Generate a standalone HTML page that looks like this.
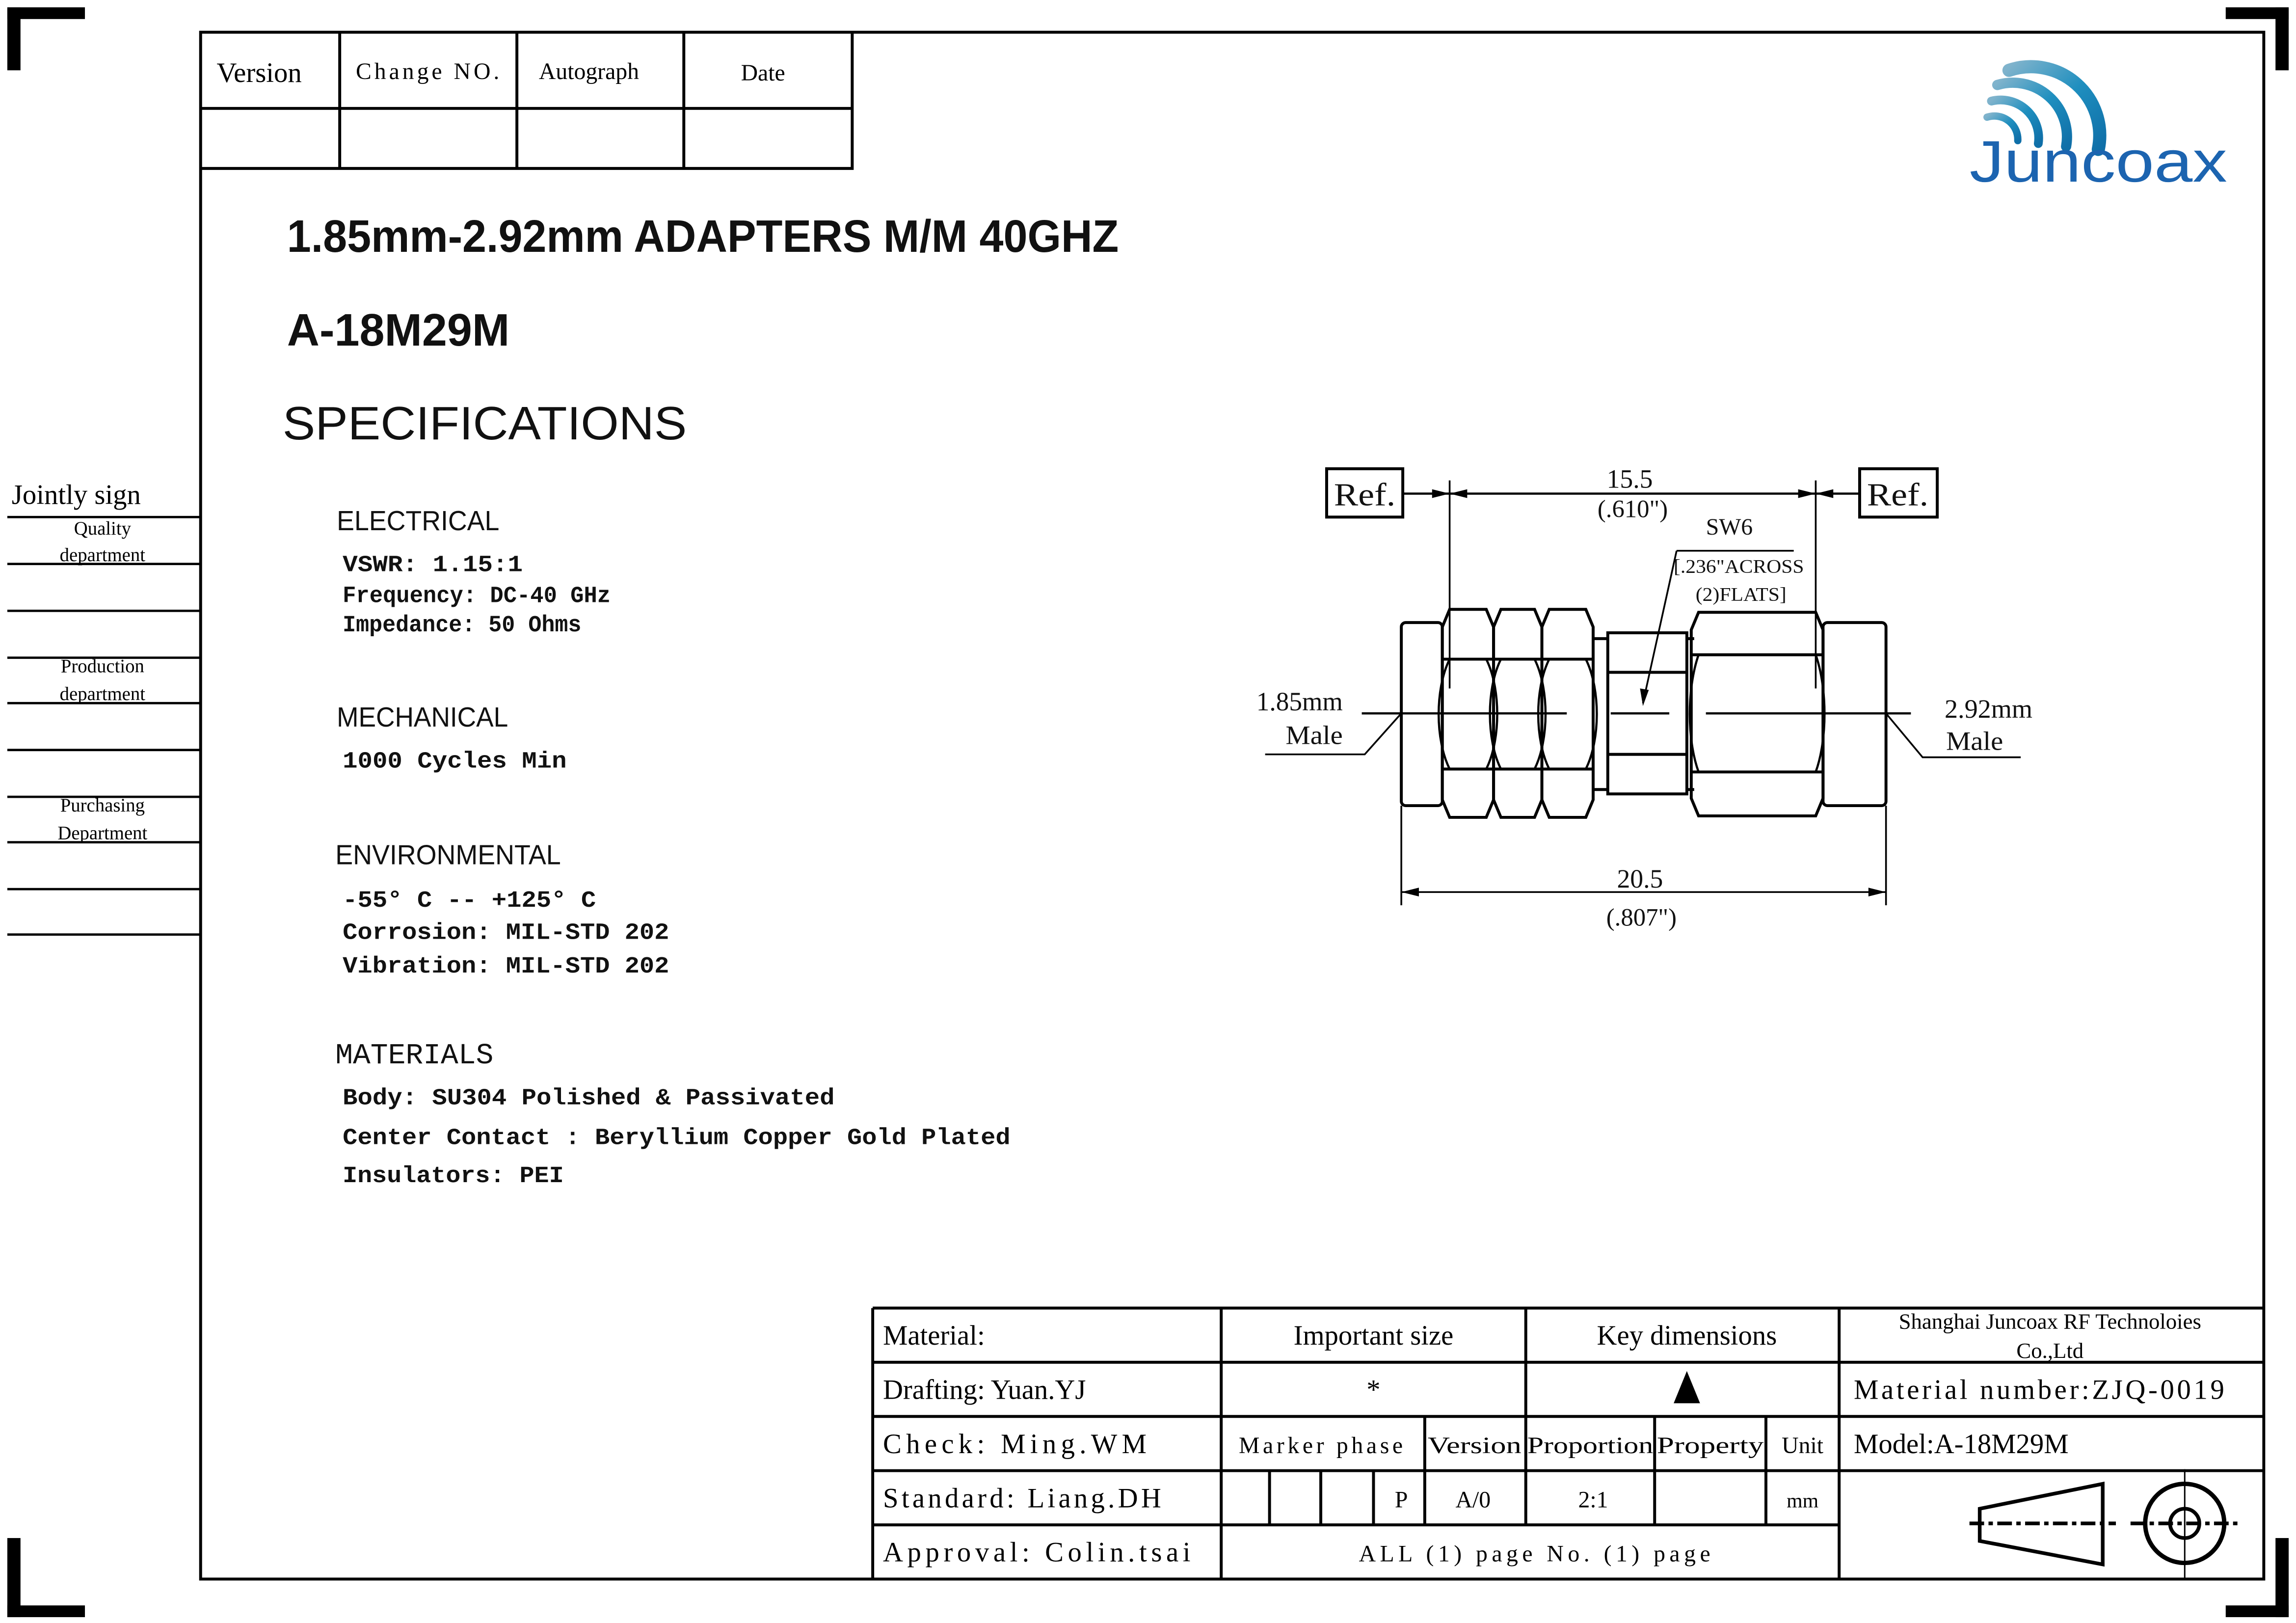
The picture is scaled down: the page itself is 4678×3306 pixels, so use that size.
<!DOCTYPE html>
<html><head><meta charset="utf-8"><style>
html,body{margin:0;padding:0;background:#fff;}
svg{display:block;}
.s{font-family:"Liberation Serif","Noto Serif CJK SC",serif;}
.m{font-family:"Liberation Mono","Noto Sans CJK SC",monospace;}
.a{font-family:"Liberation Sans","Noto Sans CJK SC",sans-serif;}
</style></head><body>
<svg width="4678" height="3306" viewBox="0 0 1568 1108" preserveAspectRatio="none" xmlns="http://www.w3.org/2000/svg">
<rect width="1568" height="1108" fill="#fff"/>
<g fill="#000">
<rect x="5" y="5" width="53" height="8"/><rect x="5" y="5" width="9" height="43"/>
<rect x="1520" y="5" width="43" height="8"/><rect x="1554" y="5" width="9" height="43"/>
<rect x="5" y="1096" width="53" height="8"/><rect x="5" y="1050" width="9" height="54"/>
<rect x="1520" y="1096" width="43" height="8"/><rect x="1554" y="1050" width="9" height="54"/>
</g>
<g stroke="#000" fill="none">
<rect x="137" y="22" width="1409" height="1056" stroke-width="2"/>
<path d="M137 115H582V22M137 74H582M232 22V115M353 22V115M467 22V115" stroke-width="2"/>
<path d="M5 353H137M5 385H137M5 417H137M5 449H137M5 480H137M5 512H137M5 544H137M5 575H137M5 607H137M5 638H137" stroke-width="1.6"/>
<path d="M596 893H1546M596 930H1546M596 967H1546M596 1004H1546M596 1041H1256M596 893V1078M834 893V1078M1042 893V1041M1256 893V1078M973 967V1041M1130 967V1041M1206 967V1041M867 1004V1041M902 1004V1041M938 1004V1041" stroke-width="2"/>
<path d="M1352 1030L1436 1013V1068L1352 1052Z" stroke-width="2.5"/>
<path d="M1345 1040H1445M1455 1040H1530" stroke-width="2.5" stroke-dasharray="10,3,3,3"/>
<circle cx="1492" cy="1040" r="27" stroke-width="3"/><circle cx="1492" cy="1040" r="10" stroke-width="2.5"/>
<path d="M1492 1003V1078" stroke-width="1"/>
</g>
<path d="M1143 958L1152 936L1161 958Z" fill="#000"/>
<g class="s" fill="#000">
<text x="148" y="56" font-size="19">Version</text>
<text x="243" y="54" font-size="16" textLength="98" lengthAdjust="spacing">Change  NO.</text>
<text x="368" y="54" font-size="16">Autograph</text>
<text x="506" y="55" font-size="16">Date</text>
<text x="8" y="344" font-size="19">Jointly sign</text>
<g font-size="13" text-anchor="middle">
<text x="70" y="365">Quality</text><text x="70" y="383">department</text>
<text x="70" y="459">Production</text><text x="70" y="478">department</text>
<text x="70" y="554">Purchasing</text><text x="70" y="573">Department</text>
</g>
</g>
<g class="a" fill="#111">
<text x="196" y="172" font-size="31" font-weight="bold" textLength="568" lengthAdjust="spacingAndGlyphs">1.85mm-2.92mm ADAPTERS  M/M 40GHZ</text>
<text x="196" y="236" font-size="31" font-weight="bold" textLength="152" lengthAdjust="spacingAndGlyphs">A-18M29M</text>
<text x="193" y="300" font-size="32" textLength="276" lengthAdjust="spacingAndGlyphs">SPECIFICATIONS</text>
<text x="230" y="362" font-size="19" textLength="111" lengthAdjust="spacingAndGlyphs">ELECTRICAL</text>
<text x="230" y="496" font-size="19" textLength="117" lengthAdjust="spacingAndGlyphs">MECHANICAL</text>
<text x="229" y="590" font-size="19" textLength="154" lengthAdjust="spacingAndGlyphs">ENVIRONMENTAL</text>
</g>
<g class="m" fill="#111" font-size="16" font-weight="bold">
<text x="229" y="726" font-size="20" font-weight="normal" textLength="108" lengthAdjust="spacingAndGlyphs">MATERIALS</text>
<text x="234" y="390" textLength="123" lengthAdjust="spacingAndGlyphs">VSWR:  1.15:1</text>
<text x="234" y="411" textLength="183" lengthAdjust="spacingAndGlyphs">Frequency: DC-40 GHz</text>
<text x="234" y="431" textLength="163" lengthAdjust="spacingAndGlyphs">Impedance: 50 Ohms</text>
<text x="234" y="524" textLength="153" lengthAdjust="spacingAndGlyphs">1000 Cycles Min</text>
<text x="234" y="619" textLength="173" lengthAdjust="spacingAndGlyphs">-55° C -- +125° C</text>
<text x="234" y="641" textLength="223" lengthAdjust="spacingAndGlyphs">Corrosion: MIL-STD 202</text>
<text x="234" y="664" textLength="223" lengthAdjust="spacingAndGlyphs">Vibration: MIL-STD 202</text>
<text x="234" y="754" textLength="336" lengthAdjust="spacingAndGlyphs">Body: SU304 Polished &amp; Passivated</text>
<text x="234" y="781" textLength="456" lengthAdjust="spacingAndGlyphs">Center Contact : Beryllium Copper Gold Plated</text>
<text x="234" y="807" textLength="151" lengthAdjust="spacingAndGlyphs">Insulators: PEI</text>
</g>
<g class="s" fill="#000" font-size="19">
<text x="603" y="918">Material:</text>
<text x="938" y="918" text-anchor="middle">Important size</text>
<text x="1152" y="918" text-anchor="middle">Key dimensions</text>
<text x="1400" y="907" font-size="15" text-anchor="middle">Shanghai Juncoax RF Technoloies</text>
<text x="1400" y="927" font-size="15" text-anchor="middle">Co.,Ltd</text>
<text x="603" y="955">Drafting: Yuan.YJ</text>
<text x="938" y="955" text-anchor="middle">*</text>
<text x="1266" y="955" textLength="253" lengthAdjust="spacing">Material number:ZJQ-0019</text>
<text x="603" y="992" textLength="180" lengthAdjust="spacing">Check:    Ming.WM</text>
<g font-size="16" text-anchor="middle">
<text x="902" y="992" textLength="112" lengthAdjust="spacing">Marker phase</text>
<text x="1007" y="992" textLength="64" lengthAdjust="spacingAndGlyphs">Version</text>
<text x="1086" y="992" textLength="86" lengthAdjust="spacingAndGlyphs">Proportion</text>
<text x="1168" y="992" textLength="73" lengthAdjust="spacingAndGlyphs">Property</text>
<text x="1231" y="992">Unit</text>
<text x="957" y="1029">P</text><text x="1006" y="1029">A/0</text>
<text x="1088" y="1029">2:1</text><text x="1231" y="1029" font-size="14">mm</text>
<text x="1048" y="1066" textLength="240" lengthAdjust="spacing">ALL (1) page   No. (1) page</text>
</g>
<text x="1266" y="992">Model:A-18M29M</text>
<text x="603" y="1029" textLength="190" lengthAdjust="spacing">Standard: Liang.DH</text>
<text x="603" y="1066" textLength="210" lengthAdjust="spacing">Approval: Colin.tsai</text>
</g>
<defs><linearGradient id="g" x1="0" y1="0" x2="1" y2="1"><stop offset="0" stop-color="#7fb3cc"/><stop offset="0.5" stop-color="#1f8fbf"/><stop offset="1" stop-color="#0f6fa8"/></linearGradient></defs>
<g fill="none" stroke="url(#g)" stroke-linecap="round">
<path d="M1357 80A16 16 0 0 1 1378 96" stroke-width="5"/>
<path d="M1360 69A26 26 0 0 1 1392 98" stroke-width="6"/>
<path d="M1364 58A37 37 0 0 1 1411 100" stroke-width="7"/>
<path d="M1372 48A47 47 0 0 1 1433 102" stroke-width="9"/>
</g>
<text x="1345" y="124" class="a" font-size="40" fill="#1c64b0" textLength="176" lengthAdjust="spacingAndGlyphs">Juncoax</text>
<g stroke="#000" fill="none" stroke-width="2">
<rect x="906" y="320" width="52" height="33"/><rect x="1270" y="320" width="53" height="33"/>
<path d="M958 337H990M1240 337H1270" stroke-width="1.5"/>
<path d="M990 337H1240" stroke-width="1.5"/>
<path d="M990 328V470M1240 328V470M957 550V618M1288 550V618M957 609H1288" stroke-width="1.2"/>
<rect x="957" y="425" width="28" height="125" rx="3"/>
<g>
<path d="M990 416H1015L1020 428V546L1015 558H990L985 546V428Z"/>
<path d="M1025 416H1048L1053 428V546L1048 558H1025L1020 546V428Z"/>
<path d="M1058 416H1083L1088 428V546L1083 558H1058L1053 546V428Z"/>
<path d="M985 450H1088M985 525H1088"/>
<path d="M990 450C980 470 980 505 990 525M1015 450C1025 470 1025 505 1015 525M1025 450C1015 470 1015 505 1025 525M1048 450C1058 470 1058 505 1048 525M1058 450C1048 470 1048 505 1058 525M1083 450C1093 470 1093 505 1083 525" stroke-width="1.5"/>
</g>
<path d="M1088 436H1098M1088 539H1098M1152 436H1157M1152 539H1157"/>
<rect x="1098" y="432" width="54" height="110"/>
<path d="M1098 459H1152M1098 515H1152"/>
<path d="M1160 418H1240L1245 430V545L1240 557H1160L1155 545V430Z"/>
<path d="M1155 447H1245M1155 527H1245"/>
<path d="M1160 447C1152 470 1152 505 1160 527M1240 447C1248 470 1248 505 1240 527" stroke-width="1.5"/>
<rect x="1245" y="425" width="43" height="125" rx="3"/>
<path d="M930 487H1070M1100 487H1140M1165 487H1305" stroke-width="1.5"/>
<path d="M1145 376H1225M1145 376L1122 480" stroke-width="1.2"/>
<path d="M864 515H932L957 487M1380 517H1313L1288 487" stroke-width="1.2"/>
</g>
<g fill="#000">
<path d="M990 337L1002 334V340Z M1240 337L1228 334V340Z M990 337L978 334V340Z M1240 337L1252 334V340Z"/>
<path d="M957 609L969 606V612Z M1288 609L1276 606V612Z"/>
<path d="M1122 482L1120 470L1126 471Z"/>
</g>
<g class="s" fill="#111">
<text x="932" y="345" font-size="22" text-anchor="middle" textLength="42" lengthAdjust="spacingAndGlyphs">Ref.</text>
<text x="1296" y="345" font-size="22" text-anchor="middle" textLength="42" lengthAdjust="spacingAndGlyphs">Ref.</text>
<text x="1113" y="333" font-size="18" text-anchor="middle">15.5</text>
<text x="1115" y="353" font-size="17" text-anchor="middle">(.610")</text>
<text x="1181" y="365" font-size="16" text-anchor="middle">SW6</text>
<text x="1143" y="391" font-size="13" textLength="89" lengthAdjust="spacingAndGlyphs">[.236"ACROSS</text>
<text x="1158" y="410" font-size="13" textLength="62" lengthAdjust="spacingAndGlyphs">(2)FLATS]</text>
<text x="858" y="485" font-size="18" textLength="59" lengthAdjust="spacingAndGlyphs">1.85mm</text>
<text x="878" y="508" font-size="18" textLength="39" lengthAdjust="spacingAndGlyphs">Male</text>
<text x="1328" y="490" font-size="18" textLength="60" lengthAdjust="spacingAndGlyphs">2.92mm</text>
<text x="1329" y="512" font-size="18" textLength="39" lengthAdjust="spacingAndGlyphs">Male</text>
<text x="1120" y="606" font-size="18" text-anchor="middle">20.5</text>
<text x="1121" y="632" font-size="17" text-anchor="middle">(.807")</text>
</g>
</svg>
</body></html>
